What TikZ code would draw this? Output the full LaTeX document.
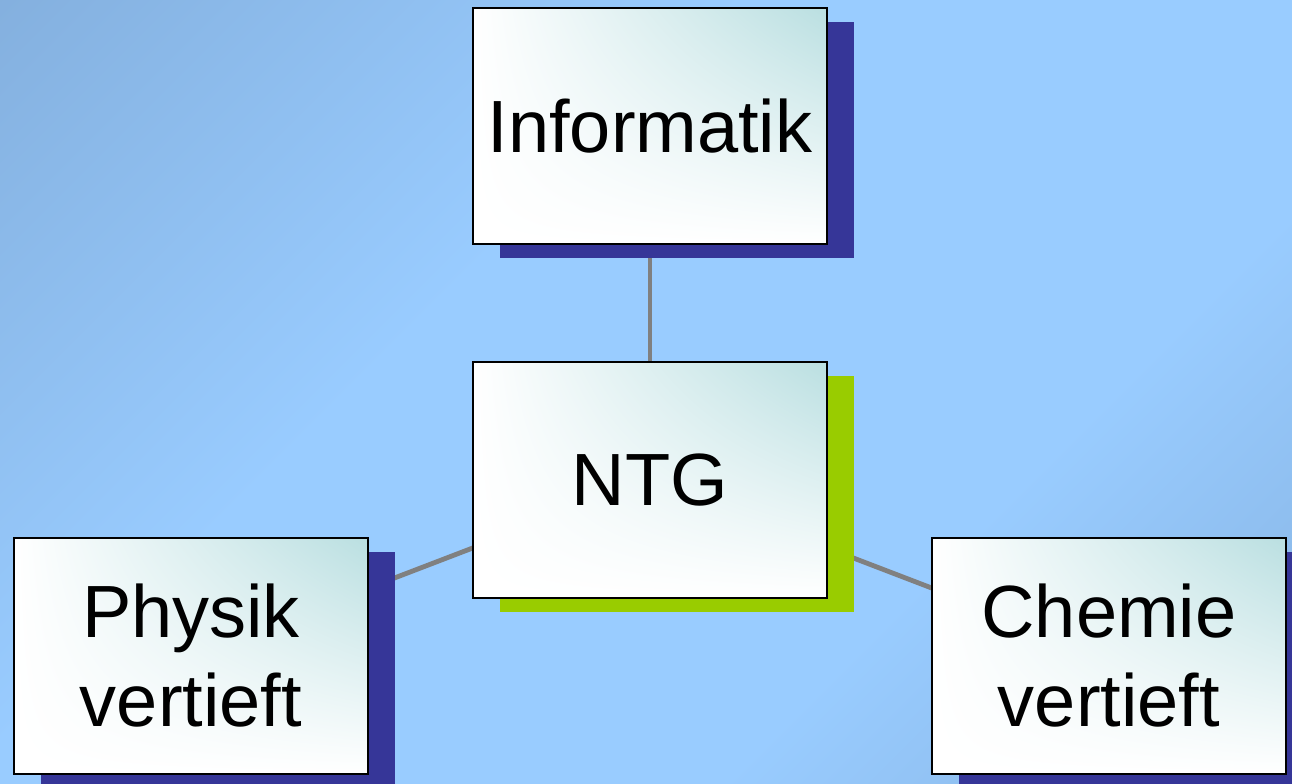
\documentclass[tikz,border=0pt]{standalone}
\usepackage{fontspec}
\setmainfont{Liberation Sans}
\usetikzlibrary{shadows,shadings,backgrounds}
\definecolor{bgdark}{RGB}{120,160,204}
\definecolor{bglight}{RGB}{153,204,255}
\definecolor{boxteal}{RGB}{186,223,225}
\definecolor{schattenblau}{RGB}{54,54,152}
\definecolor{schattengruen}{RGB}{153,204,0}
\definecolor{linkgrau}{RGB}{128,128,128}
\pgfdeclareverticalshading{hintergrund}{100bp}{color(0bp)=(bgdark); color(34bp)=(bglight); color(60bp)=(bglight); color(100bp)=(bgdark)}

\begin{document}
\begin{tikzpicture}[x=0.5pt,y=-0.5pt,
  fach/.style={draw=black,line width=1pt,minimum width=177pt,minimum height=118pt,
    inner sep=0pt,align=center,
    upper left=white,upper right=boxteal,lower left=white,lower right=white,
    font=\fontsize{37}{44.5}\selectfont,
    drop shadow={shadow xshift=13.5pt,shadow yshift=-7pt,fill=#1,opacity=1}},
  fach/.default=schattenblau,
  link/.style={draw=linkgrau,line width=2.4pt}]
\useasboundingbox (0,0) rectangle (1292,783);

\node[fach] (informatik) at (650,126) {Informatik};
\node[fach=schattengruen] (ntg) at (650,480) {NTG};
\node[fach] (physik) at (191,656) {Physik\\vertieft};
\node[fach] (chemie) at (1109,656) {Chemie\\vertieft};

\begin{scope}[on background layer]
\shade[shading=hintergrund,shading angle=45] (0,0) rectangle (1292,783);
\draw[link] (informatik.center) -- (ntg.center);
\draw[link] (physik.center) -- (ntg.center);
\draw[link] (chemie.center) -- (ntg.center);
\end{scope}
\end{tikzpicture}
\end{document}
